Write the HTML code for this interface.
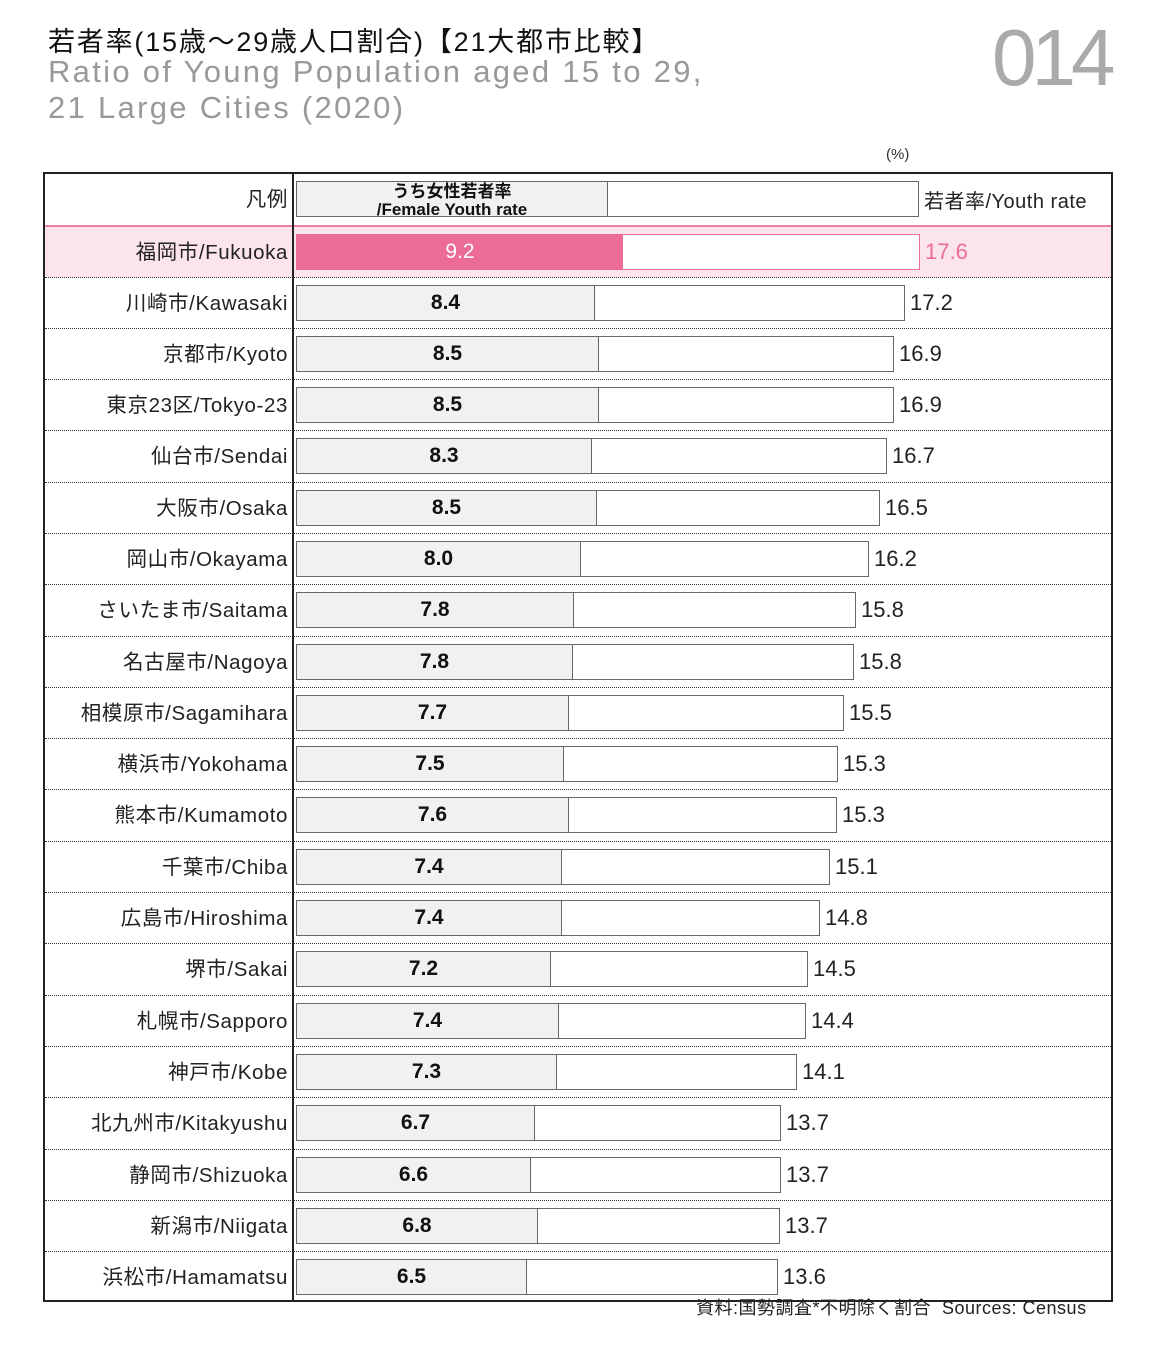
<!DOCTYPE html>
<html><head><meta charset="utf-8"><style>
body{margin:0;width:1156px;height:1346px;background:#fff;position:relative;font-family:"Liberation Sans","Noto Sans CJK JP",sans-serif;overflow:hidden}
.t1{position:absolute;left:48px;top:20px;font-size:27px;color:#111;letter-spacing:1.8px}
.t2{position:absolute;left:48px;top:54px;font-size:31px;color:#999;line-height:36px;letter-spacing:2.3px}
.num{position:absolute;left:992px;top:12px;font-size:80px;color:#aaa;font-weight:100;letter-spacing:-5px}
.unit{position:absolute;left:886px;top:146px;font-size:15px;color:#333}
.tbl{position:absolute;left:43px;top:172px;width:1066px;height:1126px;border:2px solid #222}
.vl{position:absolute;left:247px;top:0;bottom:0;border-left:2px solid #222}
.r{position:absolute;left:0;width:1066px;height:51px;border-top:1px dotted #333}
.l{position:absolute;left:0;width:243px;top:0;height:51px;line-height:51px;text-align:right;font-size:20.5px;color:#222;letter-spacing:0.6px}
.bar{position:absolute;left:251px;top:7px;height:36px;display:flex;align-items:center}
.y{position:relative;border:1.5px solid #666;background:#fff;box-sizing:border-box;height:36px}
.f{position:absolute;left:0;top:0;bottom:0;background:#f1f1f1;border-right:1.5px solid #666;text-align:center;line-height:33px;font-size:21px;font-weight:bold;color:#111}
.v{margin-left:5px;font-size:22px;color:#222}
.pk{background:#fce4ec;border-top:2px solid #ef7fa2}
.pk .y{border-color:#ec6c96}
.pk .f{background:#ec6c96;color:#fff;font-weight:normal;border:none}
.pk .v{color:#ec6c96}
</style></head><body>
<div class="t1">若者率(15歳～29歳人口割合)【21大都市比較】</div>
<div class="t2">Ratio of Young Population aged 15 to 29,<br>21 Large Cities (2020)</div>
<div class="num">014</div>
<div class="unit">(%)</div>
<div class="tbl">
<div class="r" style="top:0;border-top:none"><div class="l">凡例</div>
<div class="bar" style="top:7px"><div class="y" style="width:623px"><div class="f" style="width:310px;font-size:17px;line-height:18px;padding-top:1px">うち女性若者率<br>/Female Youth rate</div></div><span class="v" style="font-size:20px;letter-spacing:0.5px">若者率/Youth rate</span></div></div>
<div class="r pk" style="top:51px"><div class="l">福岡市/Fukuoka</div><div class="bar"><div class="y" style="width:624px"><div class="f" style="width:326px">9.2</div></div><span class="v">17.6</span></div></div>
<div class="r" style="top:103px"><div class="l">川崎市/Kawasaki</div><div class="bar"><div class="y" style="width:609px"><div class="f" style="width:297px">8.4</div></div><span class="v">17.2</span></div></div>
<div class="r" style="top:154px"><div class="l">京都市/Kyoto</div><div class="bar"><div class="y" style="width:598px"><div class="f" style="width:301px">8.5</div></div><span class="v">16.9</span></div></div>
<div class="r" style="top:205px"><div class="l">東京23区/Tokyo-23</div><div class="bar"><div class="y" style="width:598px"><div class="f" style="width:301px">8.5</div></div><span class="v">16.9</span></div></div>
<div class="r" style="top:256px"><div class="l">仙台市/Sendai</div><div class="bar"><div class="y" style="width:591px"><div class="f" style="width:294px">8.3</div></div><span class="v">16.7</span></div></div>
<div class="r" style="top:308px"><div class="l">大阪市/Osaka</div><div class="bar"><div class="y" style="width:584px"><div class="f" style="width:299px">8.5</div></div><span class="v">16.5</span></div></div>
<div class="r" style="top:359px"><div class="l">岡山市/Okayama</div><div class="bar"><div class="y" style="width:573px"><div class="f" style="width:283px">8.0</div></div><span class="v">16.2</span></div></div>
<div class="r" style="top:410px"><div class="l">さいたま市/Saitama</div><div class="bar"><div class="y" style="width:560px"><div class="f" style="width:276px">7.8</div></div><span class="v">15.8</span></div></div>
<div class="r" style="top:462px"><div class="l">名古屋市/Nagoya</div><div class="bar"><div class="y" style="width:558px"><div class="f" style="width:275px">7.8</div></div><span class="v">15.8</span></div></div>
<div class="r" style="top:513px"><div class="l">相模原市/Sagamihara</div><div class="bar"><div class="y" style="width:548px"><div class="f" style="width:271px">7.7</div></div><span class="v">15.5</span></div></div>
<div class="r" style="top:564px"><div class="l">横浜市/Yokohama</div><div class="bar"><div class="y" style="width:542px"><div class="f" style="width:266px">7.5</div></div><span class="v">15.3</span></div></div>
<div class="r" style="top:615px"><div class="l">熊本市/Kumamoto</div><div class="bar"><div class="y" style="width:541px"><div class="f" style="width:271px">7.6</div></div><span class="v">15.3</span></div></div>
<div class="r" style="top:667px"><div class="l">千葉市/Chiba</div><div class="bar"><div class="y" style="width:534px"><div class="f" style="width:264px">7.4</div></div><span class="v">15.1</span></div></div>
<div class="r" style="top:718px"><div class="l">広島市/Hiroshima</div><div class="bar"><div class="y" style="width:524px"><div class="f" style="width:264px">7.4</div></div><span class="v">14.8</span></div></div>
<div class="r" style="top:769px"><div class="l">堺市/Sakai</div><div class="bar"><div class="y" style="width:512px"><div class="f" style="width:253px">7.2</div></div><span class="v">14.5</span></div></div>
<div class="r" style="top:821px"><div class="l">札幌市/Sapporo</div><div class="bar"><div class="y" style="width:510px"><div class="f" style="width:261px">7.4</div></div><span class="v">14.4</span></div></div>
<div class="r" style="top:872px"><div class="l">神戸市/Kobe</div><div class="bar"><div class="y" style="width:501px"><div class="f" style="width:259px">7.3</div></div><span class="v">14.1</span></div></div>
<div class="r" style="top:923px"><div class="l">北九州市/Kitakyushu</div><div class="bar"><div class="y" style="width:485px"><div class="f" style="width:237px">6.7</div></div><span class="v">13.7</span></div></div>
<div class="r" style="top:975px"><div class="l">静岡市/Shizuoka</div><div class="bar"><div class="y" style="width:485px"><div class="f" style="width:233px">6.6</div></div><span class="v">13.7</span></div></div>
<div class="r" style="top:1026px"><div class="l">新潟市/Niigata</div><div class="bar"><div class="y" style="width:484px"><div class="f" style="width:240px">6.8</div></div><span class="v">13.7</span></div></div>
<div class="r" style="top:1077px"><div class="l">浜松市/Hamamatsu</div><div class="bar"><div class="y" style="width:482px"><div class="f" style="width:229px">6.5</div></div><span class="v">13.6</span></div></div>
<div class="vl"></div>
</div>
<div style="position:absolute;left:696px;top:1294px;font-size:18px;color:#222;letter-spacing:0.5px">資料:国勢調査*不明除く割合&nbsp; Sources: Census</div>
</body></html>
